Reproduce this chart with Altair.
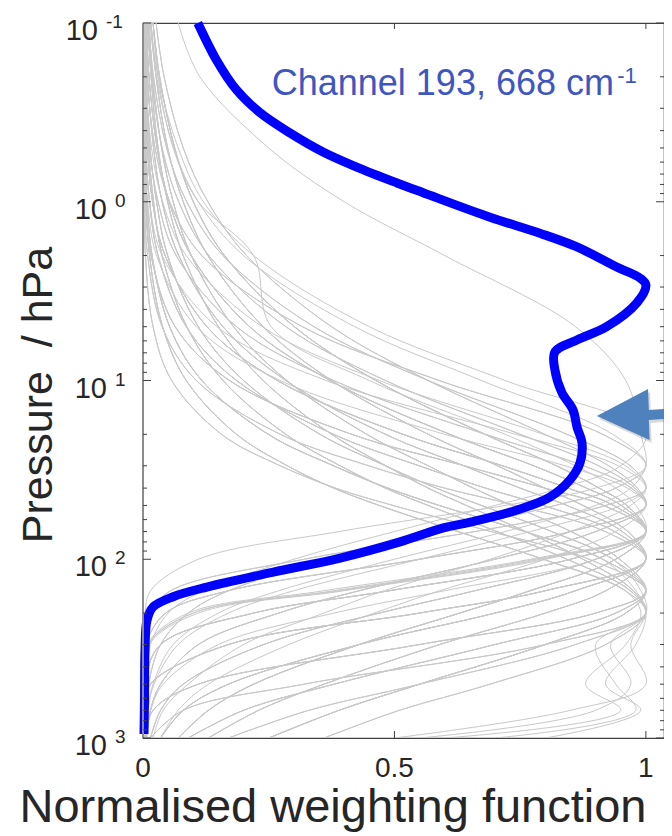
import altair as alt
import pandas as pd

# ---------------- data ----------------
P_GRID = [0.1, 0.2, 0.5, 1, 2, 5, 10, 20, 30, 40, 50, 70, 100, 150, 200, 300, 500, 700, 1000]

GRAY_CURVES = [
    [0.0035, 0.0079, 0.024, 0.053, 0.117, 0.317, 0.589, 0.914, 1, 0.9, 0.72, 0.39, 0.11, 0.015, 0.004, 0.001, 0, 0, 0],
    [0.014, 0.027, 0.061, 0.110, 0.200, 0.421, 0.673, 0.934, 1, 0.94, 0.82, 0.6, 0.37, 0.17, 0.09, 0.035, 0.011, 0.005, 0.002],
    [0.0035, 0.0079, 0.024, 0.053, 0.117, 0.317, 0.589, 0.914, 1, 0.94, 0.82, 0.6, 0.37, 0.17, 0.09, 0.035, 0.011, 0.005, 0.002],
    [0.011, 0.021, 0.047, 0.087, 0.159, 0.340, 0.567, 0.843, 0.969, 1, 0.95, 0.77, 0.55, 0.3, 0.17, 0.07, 0.022, 0.009, 0.004],
    [0.011, 0.021, 0.047, 0.087, 0.159, 0.340, 0.567, 0.843, 0.969, 1, 0.92, 0.66, 0.32, 0.055, 0.015, 0.003, 0, 0, 0],
    [0.0025, 0.0057, 0.017, 0.039, 0.086, 0.237, 0.470, 0.796, 0.959, 1, 0.92, 0.66, 0.32, 0.055, 0.015, 0.003, 0, 0, 0],
    [0.0003, 0.001, 0.0044, 0.013, 0.038, 0.147, 0.364, 0.741, 0.945, 1, 0.97, 0.85, 0.69, 0.48, 0.36, 0.2, 0.09, 0.04, 0.02],
    [0.026, 0.042, 0.080, 0.129, 0.206, 0.375, 0.567, 0.799, 0.926, 0.983, 1, 0.85, 0.55, 0.17, 0.045, 0.006, 0.001, 0, 0],
    [0.026, 0.042, 0.080, 0.129, 0.206, 0.375, 0.567, 0.799, 0.926, 0.983, 1, 0.9, 0.7, 0.43, 0.27, 0.11, 0.035, 0.015, 0.007],
    [0.009, 0.017, 0.038, 0.071, 0.131, 0.284, 0.482, 0.750, 0.906, 0.978, 1, 0.9, 0.7, 0.43, 0.27, 0.11, 0.035, 0.015, 0.007],
    [0.0019, 0.0043, 0.013, 0.030, 0.066, 0.186, 0.379, 0.681, 0.876, 0.971, 1, 0.85, 0.55, 0.17, 0.045, 0.006, 0.001, 0, 0],
    [0.0002, 0.0007, 0.0031, 0.0092, 0.027, 0.106, 0.273, 0.600, 0.839, 0.963, 1, 0.9, 0.7, 0.43, 0.27, 0.11, 0.035, 0.015, 0.007],
    [0.009, 0.017, 0.038, 0.071, 0.131, 0.284, 0.482, 0.750, 0.906, 0.978, 1, 0.85, 0.55, 0.17, 0.045, 0.006, 0.001, 0, 0],
    [0.0019, 0.0043, 0.013, 0.030, 0.066, 0.186, 0.379, 0.681, 0.876, 0.971, 1, 0.94, 0.8, 0.59, 0.46, 0.29, 0.13, 0.07, 0.035],
    [0.020, 0.033, 0.063, 0.100, 0.162, 0.301, 0.463, 0.680, 0.822, 0.907, 0.962, 1, 0.85, 0.49, 0.22, 0.035, 0.003, 0.001, 0],
    [0.0067, 0.012, 0.028, 0.052, 0.096, 0.212, 0.372, 0.610, 0.777, 0.882, 0.951, 1, 0.9, 0.66, 0.47, 0.24, 0.08, 0.035, 0.015],
    [0.0067, 0.012, 0.028, 0.052, 0.096, 0.212, 0.372, 0.610, 0.777, 0.882, 0.951, 1, 0.85, 0.49, 0.22, 0.035, 0.003, 0.001, 0],
    [0.0067, 0.012, 0.028, 0.052, 0.096, 0.212, 0.372, 0.610, 0.777, 0.882, 0.951, 1, 0.94, 0.77, 0.63, 0.43, 0.22, 0.13, 0.07],
    [0.0013, 0.0029, 0.0087, 0.019, 0.044, 0.127, 0.267, 0.517, 0.715, 0.845, 0.936, 1, 0.85, 0.49, 0.22, 0.035, 0.003, 0.001, 0],
    [0.0013, 0.0029, 0.0087, 0.019, 0.044, 0.127, 0.267, 0.517, 0.715, 0.845, 0.936, 1, 0.9, 0.66, 0.47, 0.24, 0.08, 0.035, 0.015],
    [0.0001, 0.0004, 0.0018, 0.0052, 0.016, 0.064, 0.172, 0.415, 0.639, 0.799, 0.916, 1, 0.94, 0.77, 0.63, 0.43, 0.22, 0.13, 0.07],
    [0.020, 0.033, 0.063, 0.100, 0.162, 0.301, 0.463, 0.680, 0.822, 0.907, 0.962, 1, 0.9, 0.66, 0.47, 0.24, 0.08, 0.035, 0.015],
    [0.020, 0.033, 0.063, 0.100, 0.162, 0.301, 0.463, 0.680, 0.822, 0.907, 0.962, 1, 0.94, 0.77, 0.63, 0.43, 0.22, 0.13, 0.07],
    [0.0001, 0.0004, 0.0018, 0.0052, 0.016, 0.064, 0.172, 0.415, 0.639, 0.799, 0.916, 1, 0.85, 0.49, 0.22, 0.035, 0.003, 0.001, 0],
    [0.0013, 0.0029, 0.0087, 0.019, 0.044, 0.127, 0.267, 0.517, 0.715, 0.845, 0.936, 1, 0.94, 0.77, 0.63, 0.43, 0.22, 0.13, 0.07],
    [0.0067, 0.012, 0.028, 0.052, 0.096, 0.212, 0.372, 0.610, 0.777, 0.882, 0.951, 1, 0.78, 0.38, 0.1, 0.01, 0, 0, 0],
    [0.0013, 0.0029, 0.0087, 0.019, 0.044, 0.127, 0.267, 0.517, 0.715, 0.845, 0.936, 1, 0.8, 0.4, 0.11, 0.012, 0, 0, 0],
    [0.0001, 0.0004, 0.0018, 0.0052, 0.016, 0.064, 0.172, 0.415, 0.639, 0.799, 0.916, 1, 0.77, 0.36, 0.09, 0.008, 0, 0, 0],
    [0.020, 0.033, 0.063, 0.100, 0.162, 0.301, 0.463, 0.680, 0.822, 0.907, 0.962, 1, 0.79, 0.39, 0.1, 0.01, 0, 0, 0],
    [0.016, 0.026, 0.049, 0.080, 0.129, 0.239, 0.375, 0.567, 0.705, 0.799, 0.875, 0.964, 1, 0.86, 0.7, 0.43, 0.17, 0.08, 0.035],
    [0.016, 0.026, 0.049, 0.080, 0.129, 0.239, 0.375, 0.567, 0.705, 0.799, 0.875, 0.964, 1, 0.8, 0.55, 0.17, 0.015, 0.002, 0.001],
    [0.0049, 0.009, 0.021, 0.038, 0.071, 0.159, 0.284, 0.482, 0.638, 0.750, 0.843, 0.953, 1, 0.8, 0.55, 0.17, 0.015, 0.002, 0.001],
    [0.0049, 0.009, 0.021, 0.038, 0.071, 0.159, 0.284, 0.482, 0.638, 0.750, 0.843, 0.953, 1, 0.86, 0.7, 0.43, 0.17, 0.08, 0.035],
    [0.0049, 0.009, 0.021, 0.038, 0.071, 0.159, 0.284, 0.482, 0.638, 0.750, 0.843, 0.953, 1, 0.92, 0.8, 0.59, 0.36, 0.23, 0.13],
    [0.0008, 0.0019, 0.0057, 0.013, 0.030, 0.086, 0.186, 0.379, 0.549, 0.681, 0.796, 0.938, 1, 0.8, 0.55, 0.17, 0.015, 0.002, 0.001],
    [0.0008, 0.0019, 0.0057, 0.013, 0.030, 0.086, 0.186, 0.379, 0.549, 0.681, 0.796, 0.938, 1, 0.92, 0.8, 0.59, 0.36, 0.23, 0.13],
    [0.0001, 0.0002, 0.001, 0.0031, 0.0092, 0.038, 0.106, 0.273, 0.449, 0.600, 0.741, 0.919, 1, 0.86, 0.7, 0.43, 0.17, 0.08, 0.035],
    [0.016, 0.026, 0.049, 0.080, 0.129, 0.239, 0.375, 0.567, 0.705, 0.799, 0.875, 0.964, 1, 0.92, 0.8, 0.59, 0.36, 0.23, 0.13],
    [0.0001, 0.0002, 0.001, 0.0031, 0.0092, 0.038, 0.106, 0.273, 0.449, 0.600, 0.741, 0.919, 1, 0.8, 0.55, 0.17, 0.015, 0.002, 0.001],
    [0.0008, 0.0019, 0.0057, 0.013, 0.030, 0.086, 0.186, 0.379, 0.549, 0.681, 0.796, 0.938, 1, 0.86, 0.7, 0.43, 0.17, 0.08, 0.035],
    [0.012, 0.019, 0.037, 0.060, 0.096, 0.180, 0.286, 0.445, 0.567, 0.657, 0.733, 0.851, 0.948, 1, 0.94, 0.7, 0.38, 0.2, 0.09],
    [0.012, 0.019, 0.037, 0.060, 0.096, 0.180, 0.286, 0.445, 0.567, 0.657, 0.733, 0.851, 0.948, 1, 0.96, 0.8, 0.55, 0.39, 0.25],
    [0.0034, 0.0063, 0.014, 0.027, 0.049, 0.110, 0.200, 0.352, 0.482, 0.583, 0.673, 0.813, 0.934, 1, 0.9, 0.55, 0.11, 0.02, 0.004],
    [0.0034, 0.0063, 0.014, 0.027, 0.049, 0.110, 0.200, 0.352, 0.482, 0.583, 0.673, 0.813, 0.934, 1, 0.96, 0.8, 0.55, 0.39, 0.25],
    [0.0005, 0.0012, 0.0035, 0.0079, 0.018, 0.053, 0.117, 0.249, 0.379, 0.487, 0.589, 0.759, 0.914, 1, 0.94, 0.7, 0.38, 0.2, 0.09],
    [0.0005, 0.0012, 0.0035, 0.0079, 0.018, 0.053, 0.117, 0.249, 0.379, 0.487, 0.589, 0.759, 0.914, 1, 0.9, 0.55, 0.11, 0.02, 0.004],
    [0.0005, 0.0012, 0.0035, 0.0079, 0.018, 0.053, 0.117, 0.249, 0.379, 0.487, 0.589, 0.759, 0.914, 1, 0.96, 0.8, 0.55, 0.39, 0.25],
    [0, 0.0001, 0.0005, 0.0016, 0.0048, 0.020, 0.057, 0.156, 0.273, 0.383, 0.497, 0.692, 0.887, 1, 0.96, 0.8, 0.55, 0.39, 0.25],
    [0.012, 0.019, 0.037, 0.060, 0.096, 0.180, 0.286, 0.445, 0.567, 0.657, 0.733, 0.851, 0.948, 1, 0.9, 0.55, 0.11, 0.02, 0.004],
    [0, 0.0001, 0.0005, 0.0016, 0.0048, 0.020, 0.057, 0.156, 0.273, 0.383, 0.497, 0.692, 0.887, 1, 0.94, 0.7, 0.38, 0.2, 0.09],
    [0.0099, 0.016, 0.030, 0.049, 0.080, 0.150, 0.239, 0.375, 0.483, 0.567, 0.643, 0.761, 0.875, 0.975, 1, 0.86, 0.55, 0.33, 0.17],
    [0.0099, 0.016, 0.030, 0.049, 0.080, 0.150, 0.239, 0.375, 0.483, 0.567, 0.643, 0.761, 0.875, 0.975, 1, 0.8, 0.32, 0.08, 0.015],
    [0.0026, 0.0049, 0.011, 0.021, 0.038, 0.087, 0.159, 0.284, 0.392, 0.482, 0.567, 0.704, 0.843, 0.969, 1, 0.92, 0.69, 0.51, 0.36],
    [0.0004, 0.0008, 0.0025, 0.0057, 0.013, 0.039, 0.086, 0.186, 0.287, 0.379, 0.470, 0.626, 0.796, 0.959, 1, 0.86, 0.55, 0.33, 0.17],
    [0.0026, 0.0049, 0.011, 0.021, 0.038, 0.087, 0.159, 0.284, 0.392, 0.482, 0.567, 0.704, 0.843, 0.969, 1, 0.8, 0.32, 0.08, 0.015],
    [0.0004, 0.0008, 0.0025, 0.0057, 0.013, 0.039, 0.086, 0.186, 0.287, 0.379, 0.470, 0.626, 0.796, 0.959, 1, 0.92, 0.69, 0.51, 0.36],
    [0.0026, 0.0049, 0.011, 0.021, 0.038, 0.087, 0.159, 0.284, 0.392, 0.482, 0.567, 0.704, 0.843, 0.969, 1, 0.93, 0.97, 0.9, 0.55],
    [0.0004, 0.0008, 0.0025, 0.0057, 0.013, 0.039, 0.086, 0.186, 0.287, 0.379, 0.470, 0.626, 0.796, 0.959, 0.99, 0.96, 0.88, 0.95, 0.6],
    [0.0034, 0.0063, 0.014, 0.027, 0.049, 0.110, 0.200, 0.352, 0.482, 0.583, 0.673, 0.813, 0.934, 0.99, 1, 0.9, 0.94, 0.98, 0.7],
    [0.0005, 0.0012, 0.0035, 0.0079, 0.018, 0.053, 0.117, 0.249, 0.379, 0.487, 0.589, 0.759, 0.914, 0.98, 1, 0.97, 1, 0.85, 0.5],
    [0.0099, 0.016, 0.030, 0.049, 0.080, 0.150, 0.239, 0.375, 0.483, 0.567, 0.643, 0.761, 0.875, 0.975, 1, 0.98, 0.92, 0.99, 0.8],
    [0.07, 0.113, 0.25, 0.40, 0.6, 0.86, 0.96, 0.99, 1.0, 0.97, 0.9, 0.72, 0.5, 0.27, 0.15, 0.06, 0.02, 0.01, 0.005],
    [0.02, 0.03, 0.06, 0.11, 0.22, 0.255, 0.45, 0.72, 0.86, 0.94, 0.98, 1.0, 0.9, 0.6, 0.38, 0.15, 0.04, 0.015, 0.005],
    [0.015, 0.03, 0.07, 0.12, 0.22, 0.45, 0.72, 1.0, 0.95, 0.83, 0.7, 0.5, 0.3, 0.12, 0.05, 0.015, 0.004, 0.002, 0.001],
]

BLUE_P = [0.1, 0.161, 0.237, 0.318, 0.412, 0.527, 0.64, 0.785, 0.89, 1.22, 1.50, 1.79, 2.32, 2.67,
          2.92, 3.68, 5.0, 5.93, 6.92, 8.7, 11.7, 14.6, 18.2, 22.4, 28.9, 36, 44.9, 53, 61.6, 66.8,
          80, 98.5, 118, 143, 162, 185, 219, 323, 600, 950]
BLUE_X = [0.109, 0.146, 0.186, 0.233, 0.292, 0.358, 0.425, 0.505, 0.557, 0.690, 0.789, 0.863, 0.942, 0.988,
          1.0, 0.982, 0.922, 0.863, 0.819, 0.819, 0.833, 0.855, 0.863, 0.873, 0.869, 0.849, 0.809, 0.744, 0.656, 0.597,
          0.511, 0.392, 0.259, 0.127, 0.06, 0.02, 0.008, 0.004, 0.003, 0.002]

MAJOR_P = [0.1, 1, 10, 100, 1000]
EXPONENTS = ["-1", "0", "1", "2", "3"]
MINOR_P = [0.2, 0.3, 0.4, 0.5, 0.6, 0.7, 0.8, 0.9,
           2, 3, 4, 5, 6, 7, 8, 9,
           20, 30, 40, 50, 60, 70, 80, 90,
           200, 300, 400, 500, 600, 700, 800, 900]
X_TICKS = [0, 0.5, 1]
X_TICK_LABELS = ["0", "0.5", "1"]
X_INNER_TICKS = [0.5, 1]

X_TITLE = ["Normalised weighting function"]
Y_TITLE = ["Pressure\u00a0 / hPa"]

ANNOT_TEXT = ["Channel 193, 668 cm"]
ANNOT_X = [0.256]
ANNOT_P = [0.253]
ANNOT_SUP = ["-1"]
ANNOT_SUP_X = [0.943]
ANNOT_SUP_P = [0.217]

ARROW_X = [0.982]
ARROW_P = [15.8]

# ---------------- build ----------------
W, H = 521, 715
XMAX = 1.036
FONT = "Liberation Sans"
TXT = "#262626"

rows = []
for i, curve in enumerate(GRAY_CURVES):
    for p, x in zip(P_GRID, curve):
        rows.append({"curve": i, "p": p, "x": x})
gray_df = pd.DataFrame(rows)
blue_df = pd.DataFrame({"p": BLUE_P, "x": BLUE_X})
maj_df = pd.DataFrame({"p": MAJOR_P, "e": EXPONENTS})
min_df = pd.DataFrame({"p": MINOR_P})
xt_df = pd.DataFrame({"x": X_TICKS, "label": X_TICK_LABELS})
xin_df = pd.DataFrame({"x": X_INNER_TICKS})
ann_df = pd.DataFrame({"x": ANNOT_X, "p": ANNOT_P, "t": ANNOT_TEXT})
sup_df = pd.DataFrame({"x": ANNOT_SUP_X, "p": ANNOT_SUP_P, "t": ANNOT_SUP})
arrow_df = pd.DataFrame({"x": ARROW_X, "p": ARROW_P})
xtitle_df = pd.DataFrame({"t": X_TITLE})
ytitle_df = pd.DataFrame({"t": Y_TITLE})

xs = alt.Scale(domain=[0, XMAX], nice=False, zero=False)
ys = alt.Scale(type="log", domain=[0.1, 1000], reverse=True, nice=False)

X = lambda: alt.X("x:Q", scale=xs, axis=None)
Y = lambda: alt.Y("p:Q", scale=ys, axis=None)

gray = alt.Chart(gray_df).mark_line(
    color="#c8c8c8", strokeWidth=1, interpolate="catmull-rom", clip=True
).encode(x=X(), y=Y(), detail="curve:N", order="p:Q")

blue = alt.Chart(blue_df).mark_line(
    color="#0000FF", strokeWidth=9, strokeJoin="round", strokeCap="butt", interpolate="catmull-rom"
).encode(x=X(), y=Y(), order="p:Q")

tick_color = "#404040"
left_axis = alt.Chart(xtitle_df).mark_rule(color="#8c8c8c", strokeWidth=2).encode(
    x=alt.value(0), y=alt.value(0), y2=alt.value(H))
left_major = alt.Chart(maj_df).mark_rule(color=tick_color, strokeWidth=1).encode(
    y=Y(), x=alt.value(0), x2=alt.value(8))
left_minor = alt.Chart(min_df).mark_rule(color=tick_color, strokeWidth=1).encode(
    y=Y(), x=alt.value(0), x2=alt.value(4))
right_major = alt.Chart(maj_df).mark_rule(color=tick_color, strokeWidth=1).encode(
    y=Y(), x=alt.value(W - 8), x2=alt.value(W))
right_minor = alt.Chart(min_df).mark_rule(color=tick_color, strokeWidth=1).encode(
    y=Y(), x=alt.value(W - 4), x2=alt.value(W))
top_ticks = alt.Chart(xin_df).mark_rule(color=tick_color, strokeWidth=1).encode(
    x=X(), y=alt.value(0), y2=alt.value(6))
bottom_ticks = alt.Chart(xin_df).mark_rule(color=tick_color, strokeWidth=1).encode(
    x=X(), y=alt.value(H - 7), y2=alt.value(H))

ten_main = alt.Chart(maj_df).transform_filter("datum.e != '-1'").mark_text(
    align="right", baseline="alphabetic", font=FONT, fontSize=29, color=TXT, dy=17
).encode(y=Y(), x=alt.value(-36), text=alt.value("10"))
ten_neg = alt.Chart(maj_df).transform_filter("datum.e == '-1'").mark_text(
    align="right", baseline="alphabetic", font=FONT, fontSize=29, color=TXT, dy=17
).encode(y=Y(), x=alt.value(-45), text=alt.value("10"))
exp_main = alt.Chart(maj_df).transform_filter("datum.e != '-1'").mark_text(
    align="left", baseline="alphabetic", font=FONT, fontSize=19, color=TXT, dy=5
).encode(y=Y(), x=alt.value(-28), text="e:N")
exp_neg = alt.Chart(maj_df).transform_filter("datum.e == '-1'").mark_text(
    align="left", baseline="alphabetic", font=FONT, fontSize=19, color=TXT, dy=5
).encode(y=Y(), x=alt.value(-37), text="e:N")

x_labels = alt.Chart(xt_df).mark_text(
    align="center", baseline="alphabetic", font=FONT, fontSize=28, color=TXT
).encode(x=X(), y=alt.value(H + 39), text="label:N")

x_title = alt.Chart(xtitle_df).mark_text(
    align="center", baseline="alphabetic", font=FONT, fontSize=47, color=TXT
).encode(x=alt.value(190), y=alt.value(H + 84), text="t:N")
y_title = alt.Chart(ytitle_df).mark_text(
    align="center", baseline="alphabetic", font=FONT, fontSize=43, color=TXT, angle=270
).encode(x=alt.value(-91), y=alt.value(372), text="t:N")

ann = alt.Chart(ann_df).mark_text(
    align="left", baseline="alphabetic", font=FONT, fontSize=36, color="#3F56C0"
).encode(x=X(), y=Y(), text="t:N")
ann_sup = alt.Chart(sup_df).mark_text(
    align="left", baseline="alphabetic", font=FONT, fontSize=22, color="#3F56C0"
).encode(x=X(), y=Y(), text="t:N")

ARROW_PATH = "M-1,0 L0.28,-0.675 L0.3,-0.15 L1,-0.2 L1,0.05 L0.3,0.1 L0.32,0.6 Z"
arrow_shadow = alt.Chart(arrow_df).mark_point(
    shape=ARROW_PATH, size=6400, filled=True, color="#000000", opacity=0.15,
    strokeWidth=0, xOffset=2, yOffset=3
).encode(x=X(), y=Y())
arrow = alt.Chart(arrow_df).mark_point(
    shape=ARROW_PATH, size=6400, filled=True, color="#4F81BD", opacity=1, strokeWidth=0
).encode(x=X(), y=Y())

chart = alt.layer(
    gray, blue, left_axis, left_major, left_minor, right_major, right_minor, top_ticks, bottom_ticks,
    ten_main, ten_neg, exp_main, exp_neg, x_labels, x_title, y_title, ann, ann_sup,
    arrow_shadow, arrow
).properties(
    width=W, height=H,
    autosize=alt.AutoSizeParams(type="none"),
    padding={"left": 135, "top": 15, "right": 0, "bottom": 98},
    background="white",
).configure_view(
    stroke="#404040", strokeWidth=1.2
)

chart.save("out.html", embed_options={"renderer": "svg", "actions": False})
